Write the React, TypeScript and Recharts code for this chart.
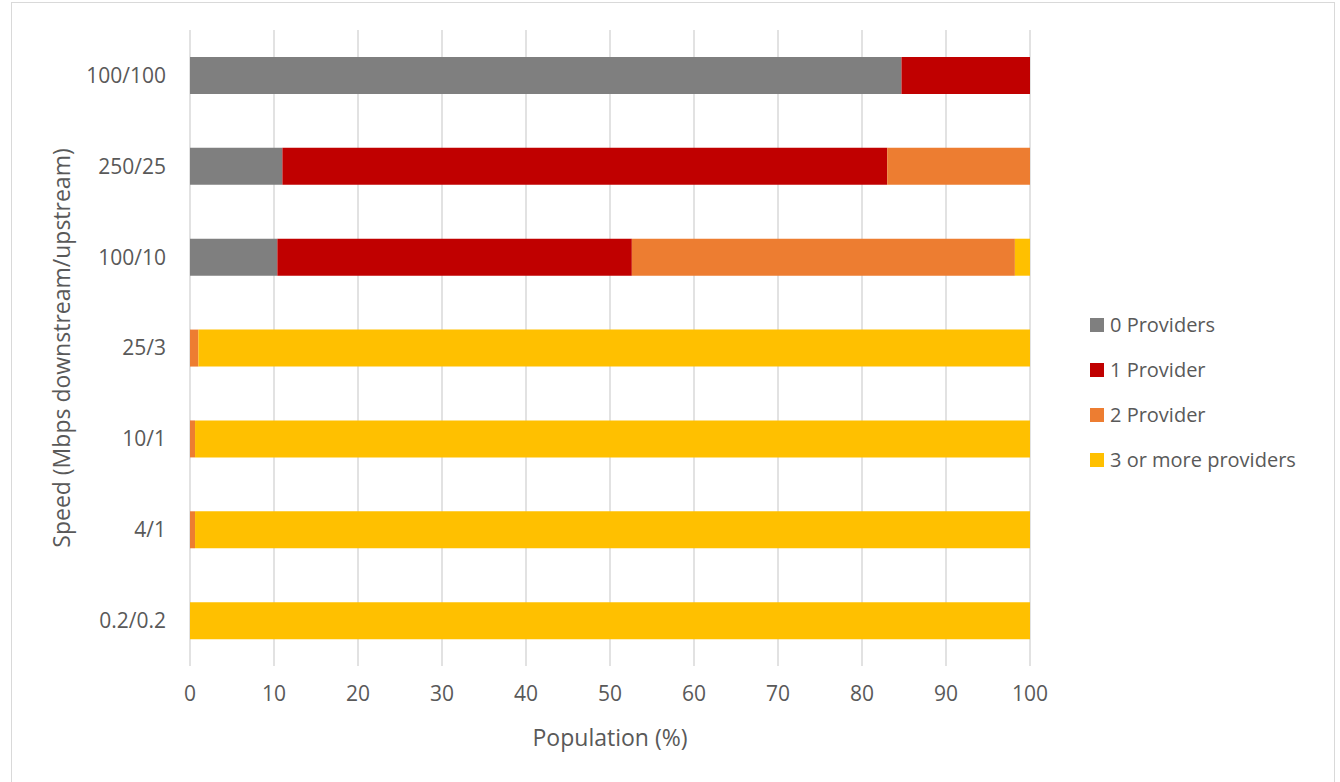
import React from "react";
import { BarChart, Bar, XAxis, YAxis, CartesianGrid } from "recharts";

const speeds = ["100/100", "250/25", "100/10", "25/3", "10/1", "4/1", "0.2/0.2"];
const zeroProviders = [84.7, 11.0, 10.4, 0, 0, 0, 0];
const oneProvider = [15.3, 72.0, 42.2, 0, 0, 0, 0];
const twoProviders = [0, 17.0, 45.6, 1.0, 0.6, 0.6, 0];
const threePlus = [0, 0, 1.8, 99.0, 99.4, 99.4, 100];
const xTicks = [0, 10, 20, 30, 40, 50, 60, 70, 80, 90, 100];

const series = [
  { key: "p0", name: "0 Providers", color: "#7f7f7f" },
  { key: "p1", name: "1 Provider", color: "#c00000" },
  { key: "p2", name: "2 Provider", color: "#ed7d31" },
  { key: "p3", name: "3 or more providers", color: "#ffc000" },
];

const data = speeds.map((speed, i) => ({
  speed,
  p0: zeroProviders[i],
  p1: oneProvider[i],
  p2: twoProviders[i],
  p3: threePlus[i],
}));

const font = "'Open Sans', sans-serif";
const textColor = "#595959";

// legend drawn as an overlay so it doesn't eat plot space
const LegendBox = () => (
  <div style={{ position: "absolute", left: 1090, top: 302, fontFamily: font, fontSize: 20, color: textColor }}>
    {series.map((s) => (
      <div key={s.key} style={{ display: "flex", alignItems: "center", height: 45 }}>
        <span style={{ width: 14, height: 14, background: s.color, marginRight: 6, display: "inline-block" }} />
        <span>{s.name}</span>
      </div>
    ))}
  </div>
);

export default function App() {
  return (
    <div style={{ position: "absolute", left: 0, top: 0, width: 1340, height: 782, background: "#fff", overflow: "hidden" }}>
      <div
        style={{
          position: "absolute",
          left: 11,
          top: 2,
          width: 1324,
          height: 800,
          border: "1px solid #d9d9d9",
          boxSizing: "border-box",
        }}
      />
      <BarChart
        width={1340}
        height={782}
        data={data}
        layout="vertical"
        margin={{ top: 30, right: 310, bottom: 0, left: 0 }}
        barSize={37}
      >
        <CartesianGrid horizontal={false} vertical={true} stroke="#d9d9d9" strokeWidth={1.5} />
        <XAxis
          type="number"
          domain={[0, 100]}
          ticks={xTicks}
          axisLine={false}
          tickLine={false}
          tickSize={0}
          tickMargin={20}
          height={116}
          tick={{ fill: textColor, fontSize: 21, fontFamily: font }}
          label={{
            value: "Population (%)",
            position: "center",
            dy: 14,
            fill: textColor,
            fontSize: 23,
            fontFamily: font,
          }}
        />
        <YAxis
          type="category"
          dataKey="speed"
          width={190}
          axisLine={false}
          tickLine={false}
          tickSize={0}
          tickMargin={24}
          tick={{ fill: textColor, fontSize: 21, fontFamily: font }}
          label={{
            value: "Speed (Mbps downstream/upstream)",
            angle: -90,
            position: "center",
            dx: -33,
            fill: textColor,
            fontSize: 23,
            fontFamily: font,
          }}
        />
        {series.map((s) => (
          <Bar key={s.key} dataKey={s.key} name={s.name} stackId="a" fill={s.color} isAnimationActive={false} />
        ))}
      </BarChart>
      <LegendBox />
    </div>
  );
}
